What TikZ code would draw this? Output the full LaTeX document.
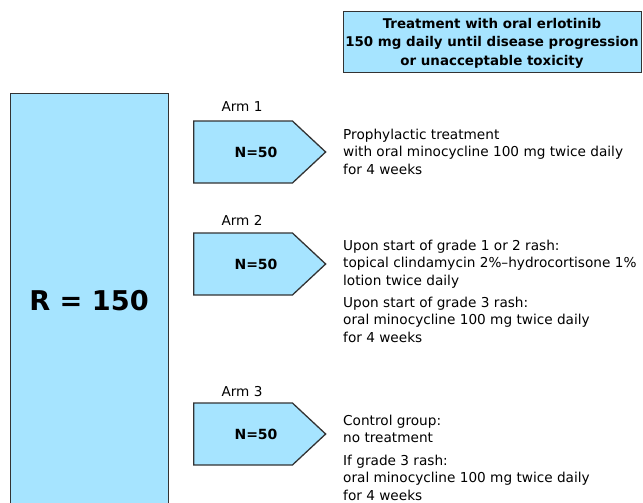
\documentclass[tikz,border=0pt]{standalone}
\usepackage{fontspec}
\setmainfont{DejaVu Sans}
\usetikzlibrary{shapes.symbols}
\definecolor{boxblue}{HTML}{A6E4FF}
\definecolor{boxline}{HTML}{333333}
\tikzset{
  bluebox/.style={draw=boxline, fill=boxblue, line width=1.3pt},
  armshape/.style={bluebox, shape=signal, signal to=east, signal pointer angle=86,
     minimum width=132pt, minimum height=62pt, inner sep=0pt},
  armtext/.style={font=\fontsize{14}{16}\selectfont\bfseries, inner sep=0pt},
  armlabel/.style={font=\fontsize{13.6}{16}\selectfont, inner sep=0pt},
  desc/.style={font=\fontsize{13.65}{17.6}\selectfont, align=left, inner sep=0pt, anchor=north west},
}
\begin{document}
\begin{tikzpicture}[x=1pt,y=-1pt]
\useasboundingbox (0,0) rectangle (643,503);
\clip (0,0) rectangle (643,503);
% top box
\node[bluebox, anchor=north west, minimum width=298pt, minimum height=61pt, inner sep=0pt] (top) at (343,11) {};
\node[align=center, inner sep=0pt, font=\fontsize{13.4}{18.5}\selectfont\bfseries] (toptext) at (492,43)
  {Treatment with oral erlotinib\\150 mg daily until disease progression\\or unacceptable toxicity};
% R box
\node[bluebox, anchor=north west, minimum width=158pt, minimum height=430pt, inner sep=0pt] (R) at (10,93) {};
\node[font=\fontsize{27.2}{32}\selectfont\bfseries, inner sep=0pt] (Rt) at (89,301) {R = 150};
% arms
\node[armshape, anchor=west] (a1) at (193,152) {};
\node[armshape, anchor=west] (a2) at (193,264) {};
\node[armshape, anchor=west] (a3) at (193,434) {};
\node[armtext] (n1) at (256,152) {N=50};
\node[armtext] (n2) at (256,264) {N=50};
\node[armtext] (n3) at (256,434) {N=50};
\node[armlabel] (l1) at (242,107) {Arm 1};
\node[armlabel] (l2) at (242,220) {Arm 2};
\node[armlabel] (l3) at (242,392) {Arm 3};
% descriptions
\node[desc] (d1) at (343,128.5) {Prophylactic treatment\\with oral minocycline 100 mg twice daily\\for 4 weeks};
\node[desc] (d2a) at (343,239.5) {Upon start of grade 1 or 2 rash:\\topical clindamycin 2\%–hydrocortisone 1\%\\lotion twice daily};
\node[desc] (d2b) at (343,296.5) {Upon start of grade 3 rash:\\oral minocycline 100 mg twice daily\\for 4 weeks};
\node[desc] (d3a) at (343,414.5) {Control group:\\no treatment};
\node[desc] (d3b) at (343,454.5) {If grade 3 rash:\\oral minocycline 100 mg twice daily\\for 4 weeks};
\end{tikzpicture}
\end{document}
